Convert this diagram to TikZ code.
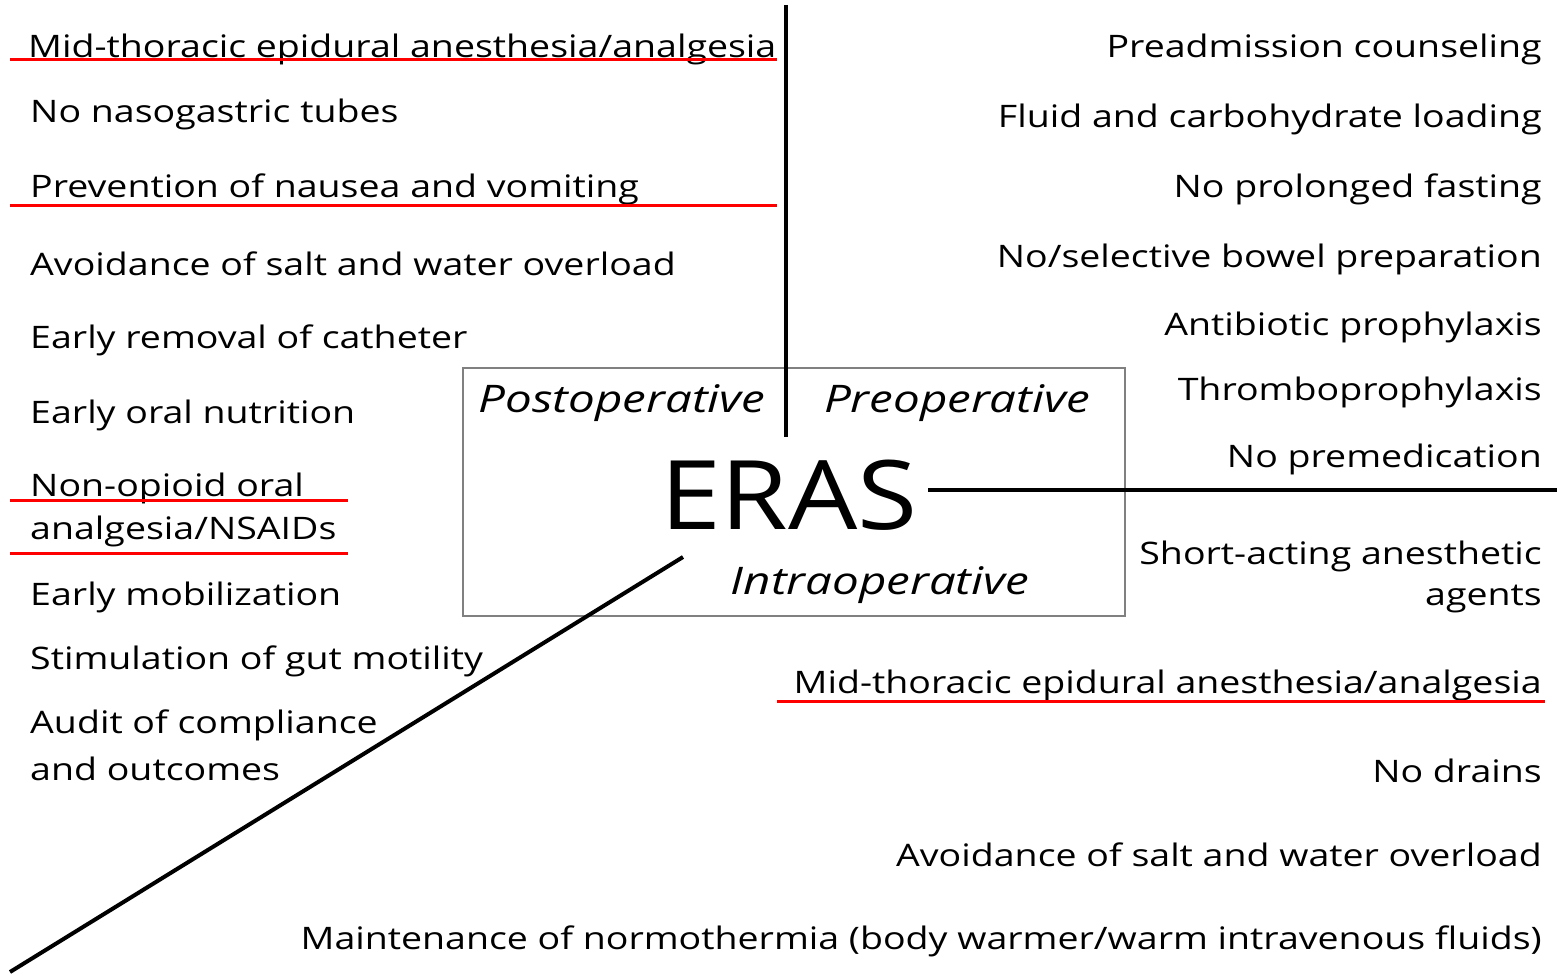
\documentclass[tikz,border=0pt]{standalone}
\usepackage{fontspec}
\setmainfont{Open Sans}
\begin{document}
\begin{tikzpicture}[x=1pt,y=-1pt,
  lt/.style={anchor=west,inner sep=0pt,xscale=1.21,font=\fontsize{31}{36}\selectfont},
  rt/.style={anchor=east,inner sep=0pt,xscale=1.21,font=\fontsize{31}{36}\selectfont},
  ph/.style={inner sep=0pt,xscale=1.25,font=\fontsize{38}{44}\selectfont\itshape},
  redline/.style={draw=red,line width=3pt},
  blk/.style={draw=black,line width=4pt}]
\useasboundingbox (0,0) rectangle (1557,974);
% box
\node[draw=gray,line width=1.5pt,minimum width=662pt,minimum height=248pt,inner sep=0pt] (box) at (794,492) {};
\node[ph] (post) at (622,403) {Postoperative};
\node[ph] (pre) at (957,403) {Preoperative};
\node[ph] (intra) at (880,585) {Intraoperative};
\node[inner sep=0pt,xscale=1.14,font=\fontsize{96}{110}\selectfont] (eras) at (789,495) {ERAS};
% left column
\node[lt] (l1) at (28,49) {Mid-thoracic epidural anesthesia/analgesia};
\node[lt] (l2) at (30,114) {No nasogastric tubes};
\node[lt] (l3) at (30,189) {Prevention of nausea and vomiting};
\node[lt] (l4) at (30,264) {Avoidance of salt and water overload};
\node[lt] (l5) at (30,340) {Early removal of catheter};
\node[lt] (l6) at (30,415) {Early oral nutrition};
\node[lt] (l7) at (30,488) {Non-opioid oral};
\node[lt] (l8) at (30,531) {analgesia/NSAIDs};
\node[lt] (l9) at (30,597) {Early mobilization};
\node[lt] (l10) at (30,661) {Stimulation of gut motility};
\node[lt] (l11) at (30,725) {Audit of compliance};
\node[lt] (l12) at (30,769) {and outcomes};
% right column
\node[rt] (r1) at (1542,49) {Preadmission counseling};
\node[rt] (r2) at (1542,119) {Fluid and carbohydrate loading};
\node[rt] (r3) at (1542,189) {No prolonged fasting};
\node[rt] (r4) at (1542,259) {No/selective bowel preparation};
\node[rt] (r5) at (1542,327) {Antibiotic prophylaxis};
\node[rt] (r6) at (1542,392) {Thromboprophylaxis};
\node[rt] (r7) at (1542,459) {No premedication};
\node[rt] (r8) at (1542,556) {Short-acting anesthetic};
\node[rt] (r9) at (1542,599) {agents};
\node[rt] (r10) at (1542,685) {Mid-thoracic epidural anesthesia/analgesia};
\node[rt] (r11) at (1542,771) {No drains};
\node[rt] (r12) at (1542,855) {Avoidance of salt and water overload};
\node[rt] (r13) at (1542,941) {Maintenance of normothermia (body warmer/warm intravenous fluids)};
% underlines
\coordinate (u1a) at (10,60); \coordinate (u1b) at (777,60);
\coordinate (u2a) at (10,205); \coordinate (u2b) at (777,205);
\coordinate (u3a) at (10,500); \coordinate (u3b) at (348,500);
\coordinate (u4a) at (10,553); \coordinate (u4b) at (348,553);
\coordinate (u5a) at (777,701); \coordinate (u5b) at (1545,701);
\draw[redline] (u1a) -- (u1b);
\draw[redline] (u2a) -- (u2b);
\draw[redline] (u3a) -- (u3b);
\draw[redline] (u4a) -- (u4b);
\draw[redline] (u5a) -- (u5b);
% axes
\coordinate (vtop) at (786,5); \coordinate (vbot) at (786,437);
\coordinate (hl) at (928,490); \coordinate (hr) at (1557,490);
\coordinate (da) at (683,557); \coordinate (db) at (10,972);
\draw[blk] (vtop) -- (vbot);
\draw[blk] (hl) -- (hr);
\draw[blk] (da) -- (db);
\end{tikzpicture}
\end{document}
